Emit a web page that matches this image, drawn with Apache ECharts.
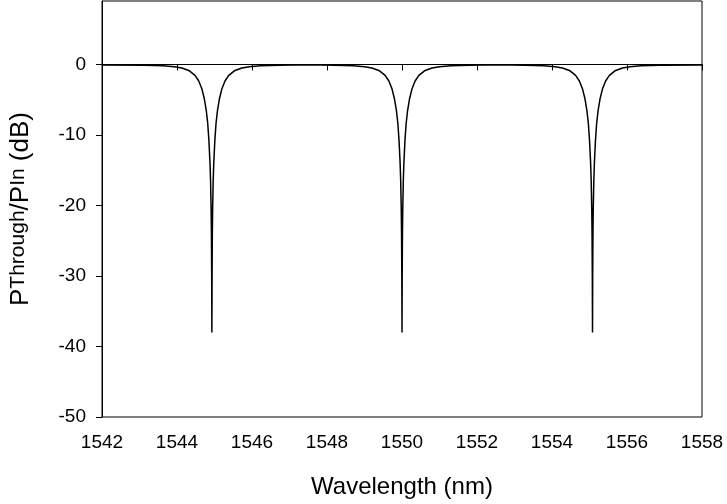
<!DOCTYPE html>
<html>
<head>
<meta charset="utf-8">
<script src="https://cdn.jsdelivr.net/npm/echarts@6/dist/echarts.min.js"></script>
<style>html,body{margin:0;padding:0;background:#fff}#c{width:727px;height:504px}</style>
</head>
<body>
<div id="c"></div>
<script>
// Wavelength samples (nm)
const wavelength = [
  1542.00,
  1543.13, 1543.63, 1543.93, 1544.13, 1544.33, 1544.48, 1544.58, 1544.66, 1544.73, 1544.78, 1544.82, 1544.85, 1544.88, 1544.895, 1544.91, 1544.918, 1544.925,
  1544.93,
  1544.935, 1544.942, 1544.95, 1544.965, 1544.98, 1545.01, 1545.04, 1545.08, 1545.13, 1545.20, 1545.28, 1545.38, 1545.53, 1545.73, 1545.93, 1546.23, 1546.73,
  1547.47,
  1548.20, 1548.70, 1549.00, 1549.20, 1549.40, 1549.55, 1549.65, 1549.73, 1549.80, 1549.85, 1549.89, 1549.92, 1549.95, 1549.965, 1549.98, 1549.988, 1549.995,
  1550.00,
  1550.005, 1550.012, 1550.02, 1550.035, 1550.05, 1550.08, 1550.11, 1550.15, 1550.20, 1550.27, 1550.35, 1550.45, 1550.60, 1550.80, 1551.00, 1551.30, 1551.80,
  1552.54,
  1553.28, 1553.78, 1554.08, 1554.28, 1554.48, 1554.63, 1554.73, 1554.81, 1554.88, 1554.93, 1554.97, 1555.00, 1555.03, 1555.045, 1555.06, 1555.068, 1555.075,
  1555.08,
  1555.085, 1555.092, 1555.10, 1555.115, 1555.13, 1555.16, 1555.19, 1555.23, 1555.28, 1555.35, 1555.43, 1555.53, 1555.68, 1555.88, 1556.08, 1556.38, 1556.88,
  1558.00
];
// Transmission P_Through/P_In (dB) at those wavelengths
const throughDb = [
  -0.07,
  -0.1, -0.19, -0.32, -0.5, -0.9, -1.55, -2.35, -3.4, -4.9, -6.5, -8.4, -10.7, -14, -16.5, -20.5, -24, -30,
  -38,
  -30, -24, -20.5, -16.5, -14, -10.7, -8.4, -6.5, -4.9, -3.4, -2.35, -1.55, -0.9, -0.5, -0.32, -0.19, -0.1,
  -0.05,
  -0.1, -0.19, -0.32, -0.5, -0.9, -1.55, -2.35, -3.4, -4.9, -6.5, -8.4, -10.7, -14, -16.5, -20.5, -24, -30,
  -38,
  -30, -24, -20.5, -16.5, -14, -10.7, -8.4, -6.5, -4.9, -3.4, -2.35, -1.55, -0.9, -0.5, -0.32, -0.19, -0.1,
  -0.05,
  -0.1, -0.19, -0.32, -0.5, -0.9, -1.55, -2.35, -3.4, -4.9, -6.5, -8.4, -10.7, -14, -16.5, -20.5, -24, -30,
  -38,
  -30, -24, -20.5, -16.5, -14, -10.7, -8.4, -6.5, -4.9, -3.4, -2.35, -1.55, -0.9, -0.5, -0.32, -0.19, -0.1,
  -0.07
];
const xTicks = [1542, 1544, 1546, 1548, 1550, 1552, 1554, 1556, 1558];
const yTicks = [-50, -40, -30, -20, -10, 0];

const FONT = '"Liberation Sans", Arial, sans-serif';
const chart = echarts.init(document.getElementById('c'), null, {renderer: 'canvas'});
const seriesData = wavelength.map((w, i) => [w, throughDb[i]]);

chart.setOption({
  animation: false,
  backgroundColor: '#fff',
  grid: {left: 102, right: 25, top: 1, bottom: 84, show: true, borderColor: '#000', borderWidth: 1, containLabel: false},
  xAxis: {
    type: 'value', min: 1542, max: 1558, interval: 2,
    name: 'Wavelength (nm)', nameLocation: 'middle', nameGap: 58,
    nameTextStyle: {fontFamily: FONT, fontSize: 24, color: '#000'},
    axisLine: {show: true, lineStyle: {color: '#000', width: 1}},
    axisTick: {show: true, length: 6, inside: false, lineStyle: {color: '#000'}, customValues: xTicks},
    axisLabel: {fontFamily: FONT, fontSize: 19, color: '#000', margin: 16, customValues: xTicks,
      formatter: v => String(v)},
    splitLine: {show: false}
  },
  yAxis: {
    type: 'value', min: -50, max: 9, interval: 10,
    name: '{p|P}{sub|Through}{p|/P}{sub|In}{p| (dB)}', nameLocation: 'middle', nameGap: 58, nameRotate: 90,
    nameTextStyle: {
      fontFamily: FONT, color: '#000',
      rich: {
        p: {fontFamily: FONT, fontSize: 26, color: '#000', lineHeight: 26, verticalAlign: 'top'},
        sub: {fontFamily: FONT, fontSize: 21, color: '#000', lineHeight: 36, verticalAlign: 'top'}
      }
    },
    axisLine: {show: true, lineStyle: {color: '#000', width: 1}},
    axisTick: {show: true, length: 6, inside: false, lineStyle: {color: '#000'}, customValues: yTicks},
    axisLabel: {fontFamily: FONT, fontSize: 19, color: '#000', margin: 16, customValues: yTicks,
      formatter: v => String(v)},
    splitLine: {show: false}
  },
  series: [{
    type: 'line', data: seriesData, showSymbol: false, symbol: 'none',
    lineStyle: {color: '#000', width: 1.5}, smooth: false, clip: true
  }]
});
</script>
</body>
</html>
